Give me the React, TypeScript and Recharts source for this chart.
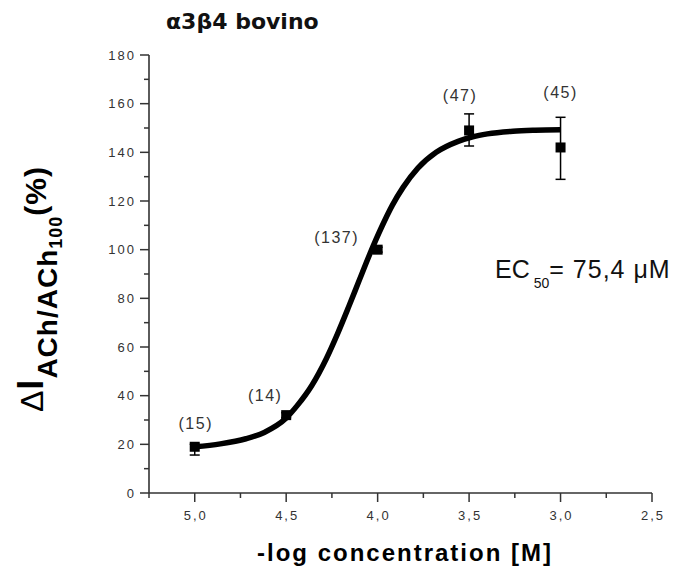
import { ComposedChart, ErrorBar, Line, Scatter, XAxis, YAxis } from "recharts";

// -log[ACh] (M) and normalised response (%)
const logConc = [5.0, 4.5, 4.0, 3.5, 3.0];
const response = [19, 32, 100, 149, 142];
const errLow = [3.4, 1, 1, 6.4, 13.1];
const errHigh = [1, 1, 1, 6.8, 12.4];
const cellCounts = [15, 14, 137, 47, 45];

// fitted curve
const fitX = [5.0, 4.86, 4.72, 4.62, 4.5, 4.44, 4.36, 4.28, 4.22, 4.16, 4.1, 4.04, 3.98, 3.92, 3.86, 3.78, 3.68, 3.56, 3.48, 3.4, 3.26, 3.14, 3.0];
const fitY = [19, 20.2, 22.3, 24.9, 30.8, 35.9, 44.2, 55.3, 65.3, 76.2, 87.5, 98.7, 109, 118.2, 125.7, 133.5, 140, 144.5, 146.4, 147.6, 148.7, 149.1, 149.3];

const xTicks = [5.25, 5.0, 4.75, 4.5, 4.25, 4.0, 3.75, 3.5, 3.25, 3.0, 2.75, 2.5];
const yTicks = [0, 10, 20, 30, 40, 50, 60, 70, 80, 90, 100, 110, 120, 130, 140, 150, 160, 170, 180];

const points = logConc.map((x, i) => ({
  x,
  y: response[i],
  err: [errLow[i], errHigh[i]],
  n: cellCounts[i],
}));
const fit = fitX.map((x, i) => ({ x, y: fitY[i] }));

// where each "(n)" sits relative to its point
const countOffsets = [
  [1, -18],
  [-21, -14],
  [-41, -7],
  [-9, -29],
  [0, -49],
];

const FONT = "'Liberation Sans', Arial, sans-serif";
const AXIS = "#333";

function XTick({ x, y, payload }: any) {
  const v = payload.value as number;
  const major = Math.abs(v * 2 - Math.round(v * 2)) < 1e-6;
  return (
    <g>
      <line x1={x} x2={x} y1={y} y2={y + (major ? 9 : 5)} stroke={AXIS} strokeWidth={1.5} />
      {major && (
        <text x={x + 1} y={y + 27} textAnchor="middle" fontFamily={FONT} fontSize={13} letterSpacing={2} fill="#333">
          {v.toFixed(1).replace(".", ",")}
        </text>
      )}
    </g>
  );
}

function YTick({ x, y, payload }: any) {
  const v = payload.value as number;
  const major = v % 20 === 0;
  return (
    <g>
      <line x1={x - (major ? 9 : 5)} x2={x} y1={y} y2={y} stroke={AXIS} strokeWidth={1.5} />
      {major && (
        <text x={x - 13} y={y + 4.5} textAnchor="end" fontFamily={FONT} fontSize={13} letterSpacing={2} fill="#333">
          {v}
        </text>
      )}
    </g>
  );
}

function CountLabel({ cx, cy, index }: any) {
  const [dx, dy] = countOffsets[index] ?? [0, -20];
  return (
    <text x={cx + dx} y={cy + dy} textAnchor="middle" fontFamily={FONT} fontSize={16} letterSpacing={1.5} fill="#333">
      ({cellCounts[index]})
    </text>
  );
}

function SquareMark({ cx, cy }: any) {
  return <rect x={cx - 5} y={cy - 5} width={10} height={10} fill="#000" />;
}

export default function App() {
  return (
    <div style={{ position: "absolute", left: 0, top: 0, width: 673, height: 575, background: "#fff" }}>
      <ComposedChart width={673} height={575} margin={{ top: 55, right: 21, bottom: 0, left: 0 }}>
        <XAxis
          type="number"
          dataKey="x"
          domain={[2.5, 5.25]}
          reversed
          ticks={xTicks}
          interval={0}
          height={82}
          tickSize={0}
          tickMargin={0}
          tickLine={false}
          tick={<XTick />}
          axisLine={{ stroke: AXIS, strokeWidth: 1.6 }}
          allowDataOverflow
        />
        <YAxis
          type="number"
          domain={[0, 180]}
          ticks={yTicks}
          interval={0}
          width={149}
          tickSize={0}
          tickMargin={0}
          tickLine={false}
          tick={<YTick />}
          axisLine={{ stroke: AXIS, strokeWidth: 1.6 }}
        />
        <Scatter data={points} dataKey="y" shape={<CountLabel />} isAnimationActive={false}>
          <ErrorBar dataKey="err" direction="y" width={5} stroke="#000" strokeWidth={1.5} />
        </Scatter>
        <Scatter data={points} dataKey="y" shape={<SquareMark />} isAnimationActive={false} />
        <Line
          data={fit}
          dataKey="y"
          type="monotone"
          stroke="#000"
          strokeWidth={5.5}
          dot={false}
          activeDot={false}
          isAnimationActive={false}
        />
      </ComposedChart>

      <svg width={673} height={575} style={{ position: "absolute", left: 0, top: 0, pointerEvents: "none" }}>
        <text x={166} y={29} fontFamily="'DejaVu Sans', sans-serif" fontWeight="bold" fontSize={22} fill="#111">
          α3β4 bovino
        </text>

        <text transform="translate(43,412) rotate(-90)" fontFamily={FONT} fill="#000" letterSpacing={1}>
          <tspan fontSize={32}>Δ</tspan>
          <tspan fontSize={36} fontWeight="bold">I</tspan>
          <tspan fontSize={28} fontWeight="bold" dy={14}>ACh/ACh</tspan>
          <tspan fontSize={18} fontWeight="bold" dy={5}>100</tspan>
          <tspan fontSize={30} fontWeight="bold" dy={-16}>(%)</tspan>
        </text>

        <text x={405} y={561} textAnchor="middle" fontFamily={FONT} fontWeight="bold" fontSize={24} letterSpacing={2} fill="#000">
          -log concentration [M]
        </text>

        <text x={495} y={278} fontFamily={FONT} fontSize={25} fill="#111">
          EC
          <tspan fontSize={14} dx={4} dy={10}>50</tspan>
          <tspan dy={-10} letterSpacing={1}>= 75,4 μM</tspan>
        </text>
      </svg>
    </div>
  );
}
